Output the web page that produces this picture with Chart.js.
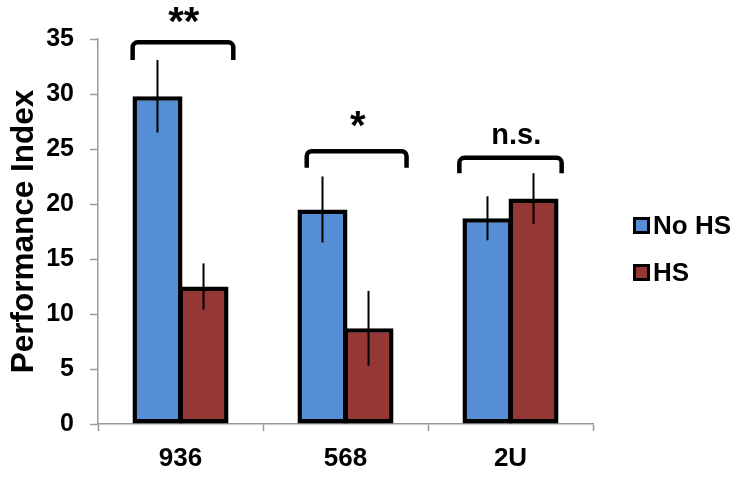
<!DOCTYPE html>
<html>
<head>
<meta charset="utf-8">
<script src="https://cdn.jsdelivr.net/npm/chart.js@4"></script>
<style>
  html, body { margin: 0; padding: 0; background: #fff; }
  #wrap { width: 742px; height: 480px; }
</style>
</head>
<body>
<div id="wrap"><canvas id="perfChart" width="742" height="480"></canvas></div>
<script>
// data
const categories = ['936', '568', '2U'];
const noHS = [29.8, 19.5, 18.7];
const hs = [12.5, 8.7, 20.5];
const noHSErr = [3.3, 3.0, 2.0];
const hsErr = [2.1, 3.4, 2.3];
const sigLabels = ['**', '*', 'n.s.'];
const yMin = 0, yMax = 35, yStep = 5;

const BLUE = '#558ed5';
const RED = '#953735';
const FONT = 'Arial, "Liberation Sans", sans-serif';

// significance brackets (value units for heights, category-width fractions for ends)
const brackets = [
  { left: -0.29, right: 0.32, top: 34.7, foot: 33.1, textX: 0.02, textY: 35.4, size: 40 },
  { left: -0.235, right: 0.37, top: 24.8, foot: 23.3, textX: 0.075, textY: 25.95, size: 40 },
  { left: -0.31, right: 0.31, top: 24.2, foot: 22.8, textX: 0.035, textY: 25.5, size: 29 }
];

const overlay = {
  id: 'overlay',
  afterDatasetsDraw(chart) {
    const ctx = chart.ctx;
    const xs = chart.scales.x, ys = chart.scales.y;
    ctx.save();

    // error bars
    ctx.strokeStyle = '#000';
    ctx.lineWidth = 2;
    [noHSErr, hsErr].forEach((err, di) => {
      const vals = chart.data.datasets[di].data;
      chart.getDatasetMeta(di).data.forEach((bar, i) => {
        ctx.beginPath();
        ctx.moveTo(bar.x, ys.getPixelForValue(vals[i] + err[i]));
        ctx.lineTo(bar.x, ys.getPixelForValue(vals[i] - err[i]));
        ctx.stroke();
      });
    });

    // brackets + labels
    const step = xs.getPixelForValue(1) - xs.getPixelForValue(0);
    brackets.forEach((b, i) => {
      const cx = xs.getPixelForValue(i);
      const l = cx + b.left * step, r = cx + b.right * step;
      const t = ys.getPixelForValue(b.top), f = ys.getPixelForValue(b.foot);
      ctx.lineWidth = 4.5;
      ctx.lineJoin = 'round';
      ctx.beginPath();
      ctx.moveTo(l, f);
      ctx.arcTo(l, t, r, t, 5);
      ctx.arcTo(r, t, r, f, 5);
      ctx.lineTo(r, f);
      ctx.stroke();

      ctx.fillStyle = '#000';
      ctx.font = 'bold ' + b.size + 'px ' + FONT;
      ctx.textAlign = 'center';
      ctx.textBaseline = 'alphabetic';
      ctx.fillText(sigLabels[i], cx + b.textX * step, ys.getPixelForValue(b.textY));
    });
    ctx.restore();
  },
  afterDraw(chart) {
    // legend on the right
    const ctx = chart.ctx;
    ctx.save();
    ctx.font = 'bold 26px ' + FONT;
    ctx.textBaseline = 'middle';
    ctx.textAlign = 'left';
    chart.data.datasets.forEach((ds, i) => {
      const y = 225 + i * 47;
      ctx.fillStyle = '#000';
      ctx.fillRect(633, y - 8, 17, 17);
      ctx.fillStyle = ds.backgroundColor;
      ctx.fillRect(636, y - 5, 11, 11);
      ctx.fillStyle = '#000';
      ctx.fillText(ds.label, 653, y + 2);
    });
    ctx.restore();
  }
};

new Chart(document.getElementById('perfChart'), {
  type: 'bar',
  data: {
    labels: categories,
    datasets: [
      { label: 'No HS', data: noHS, backgroundColor: BLUE },
      { label: 'HS', data: hs, backgroundColor: RED }
    ]
  },
  options: {
    responsive: false,
    animation: false,
    devicePixelRatio: 1,
    layout: { padding: { left: 0, top: 39, right: 149, bottom: 0 } },
    datasets: {
      bar: {
        borderColor: '#000',
        borderWidth: 4.5,
        borderSkipped: false,
        categoryPercentage: 0.558,
        barPercentage: 1.087
      }
    },
    plugins: {
      legend: { display: false },
      tooltip: { enabled: false }
    },
    scales: {
      x: {
        grid: { offset: true, drawOnChartArea: false, color: '#999', tickLength: 7, tickWidth: 1.5 },
        border: { color: '#999', width: 1.5 },
        ticks: { color: '#000', font: { family: FONT, size: 26, weight: 'bold' }, padding: 12 },
        afterFit(scale) { scale.height = 56; }
      },
      y: {
        min: yMin,
        max: yMax,
        ticks: { stepSize: yStep, color: '#000', font: { family: FONT, size: 25, weight: 'bold' }, padding: 16 },
        grid: { drawOnChartArea: false, color: '#999', tickLength: 8, tickWidth: 1.5 },
        border: { color: '#999', width: 1.5 },
        title: {
          display: true,
          text: 'Performance Index',
          color: '#000',
          font: { family: FONT, size: 31.5, weight: 'bold' },
          padding: { top: 5, bottom: 0 }
        },
        afterFit(scale) { scale.width = 98; }
      }
    }
  },
  plugins: [overlay]
});
</script>
</body>
</html>
